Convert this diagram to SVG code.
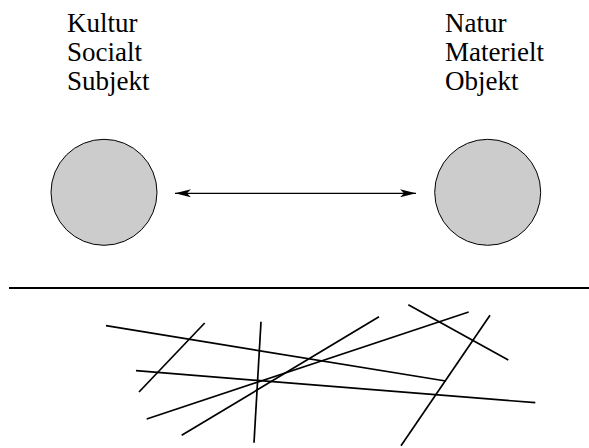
<svg xmlns="http://www.w3.org/2000/svg" width="589" height="448" viewBox="0 0 589 448">
<style>
.lbl{font-size:27px;fill:#000}
.node{fill:#cccccc;stroke:#000;stroke-width:1}
.ln{stroke:#000;stroke-width:1.7;fill:none;stroke-linecap:butt}
</style>
<defs>
<marker id="ah" viewBox="0 0 16 8" refX="16" refY="4" markerWidth="16" markerHeight="8" markerUnits="userSpaceOnUse" orient="auto-start-reverse">
<path d="M0,0 L16,4 L0,8 L4,4 Z" fill="#000"/>
</marker>
</defs>
<rect width="589" height="448" fill="#fff"/>
<g id="left-labels" font-family="Liberation Serif, serif">
<text class="lbl" x="67" y="32">Kultur</text>
<text class="lbl" x="67" y="61">Socialt</text>
<text class="lbl" x="67" y="90">Subjekt</text>
</g>
<g id="right-labels" font-family="Liberation Serif, serif">
<text class="lbl" x="445" y="32">Natur</text>
<text class="lbl" x="445" y="61">Materielt</text>
<text class="lbl" x="445" y="90">Objekt</text>
</g>
<g id="node-left"><circle class="node" cx="104" cy="192.3" r="53"/></g>
<g id="node-right"><circle class="node" cx="487.7" cy="192.3" r="53"/></g>
<g id="connectors">
<line x1="175" y1="193.3" x2="416" y2="193.3" stroke="#000" stroke-width="1.2" marker-start="url(#ah)" marker-end="url(#ah)"/>
</g>
<g id="divider"><line x1="9" y1="288" x2="589" y2="288" stroke="#000" stroke-width="2"/></g>
<g id="sticks">
<line class="ln" x1="106" y1="325.7" x2="445.7" y2="381"/>
<line class="ln" x1="204.7" y1="323" x2="139" y2="392"/>
<line class="ln" x1="261" y1="321.7" x2="254" y2="442.7"/>
<line class="ln" x1="136" y1="370.7" x2="535.3" y2="402.7"/>
<line class="ln" x1="146.7" y1="419" x2="468.7" y2="312"/>
<line class="ln" x1="181.7" y1="435.3" x2="379" y2="316.7"/>
<line class="ln" x1="408.3" y1="304.7" x2="508.3" y2="360"/>
<line class="ln" x1="490" y1="315.3" x2="401" y2="445.7"/>
</g>
</svg>
